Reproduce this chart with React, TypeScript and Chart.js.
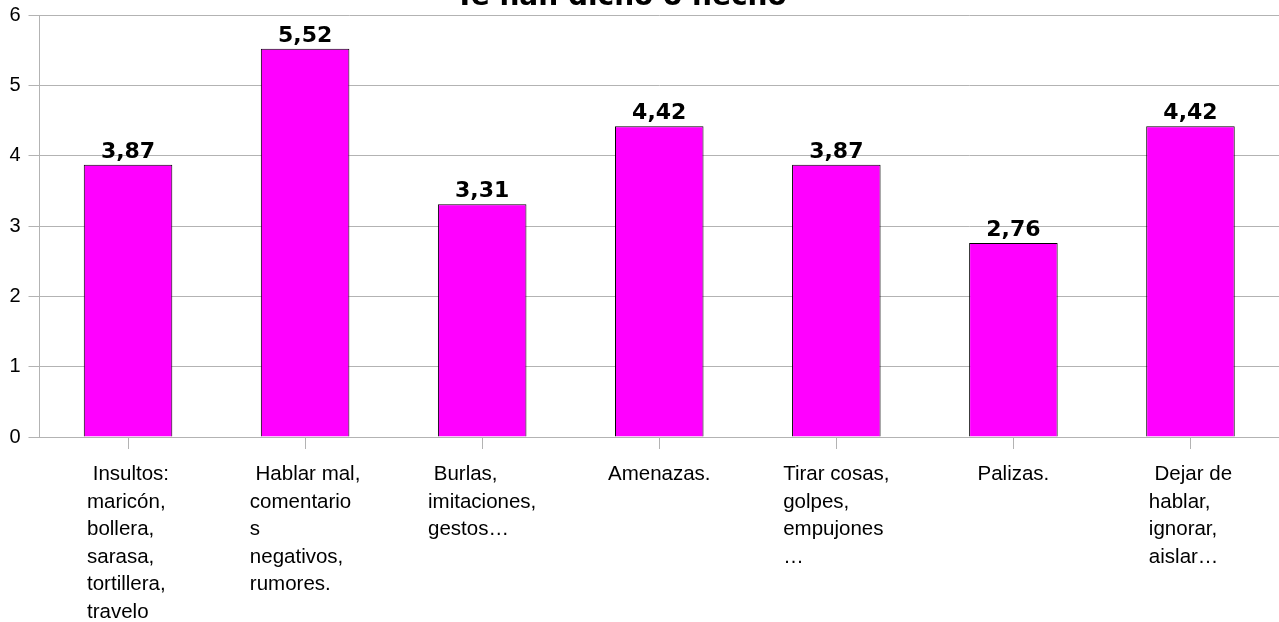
import React, { useEffect, useRef } from "react";
import { Chart, registerables } from "chart.js";

Chart.register(...registerables);

const titleText = "Te han dicho o hecho";
const categories: string[][] = [
  [" Insultos:", "maricón,", "bollera,", "sarasa,", "tortillera,", "travelo"],
  [" Hablar mal,", "comentario", "s", "negativos,", "rumores."],
  [" Burlas,", "imitaciones,", "gestos…"],
  ["Amenazas."],
  ["Tirar cosas,", "golpes,", "empujones", "…"],
  ["Palizas."],
  [" Dejar de", "hablar,", "ignorar,", "aislar…"],
];
const values: number[] = [3.87, 5.52, 3.31, 4.42, 3.87, 2.76, 4.42];
const yTicks: number[] = [0, 1, 2, 3, 4, 5, 6];

const GRID = "#b3b3b3";

const titlePlugin = {
  id: "cutTitle",
  afterDraw(chart: any) {
    const ctx = chart.ctx;
    ctx.save();
    ctx.font = "bold 28px 'DejaVu Sans'";
    ctx.fillStyle = "#000";
    ctx.textAlign = "center";
    ctx.textBaseline = "alphabetic";
    ctx.fillText(titleText, 621, 5);
    ctx.restore();
  },
};

const valueLabelPlugin = {
  id: "valueLabels",
  afterDatasetsDraw(chart: any) {
    const ctx = chart.ctx;
    const meta = chart.getDatasetMeta(0);
    ctx.save();
    ctx.font = "bold 22px 'DejaVu Sans'";
    ctx.fillStyle = "#000";
    ctx.textAlign = "center";
    ctx.textBaseline = "alphabetic";
    meta.data.forEach((bar: any, i: number) => {
      const v = chart.data.datasets[0].data[i] as number;
      ctx.fillText(v.toFixed(2).replace(".", ","), bar.x, bar.y - 7);
    });
    ctx.restore();
  },
};

const xLabelPlugin = {
  id: "xBlockLabels",
  afterDraw(chart: any) {
    const ctx = chart.ctx;
    const xs = chart.scales.x;
    ctx.save();
    ctx.font = "20.5px 'Liberation Sans', Arial, sans-serif";
    ctx.fillStyle = "#000";
    ctx.textAlign = "left";
    ctx.textBaseline = "alphabetic";
    (chart.data.labels as string[][]).forEach((lines, i) => {
      const cx = xs.getPixelForValue(i);
      let maxW = 0;
      lines.forEach((l) => {
        maxW = Math.max(maxW, ctx.measureText(l).width);
      });
      const x0 = cx - maxW / 2;
      lines.forEach((l, k) => {
        ctx.fillText(l, x0, xs.top + 43 + k * 27.6);
      });
    });
    ctx.restore();
  },
};

export default function App() {
  const canvasRef = useRef<HTMLCanvasElement | null>(null);

  useEffect(() => {
    const canvas = canvasRef.current;
    if (!canvas) return;
    const chart = new Chart(canvas, {
      type: "bar",
      data: {
        labels: categories,
        datasets: [
          {
            data: values,
            backgroundColor: "#ff00ff",
            borderColor: "#000000",
            borderWidth: 1,
            barPercentage: 0.5,
            categoryPercentage: 1,
          },
        ],
      },
      options: {
        responsive: false,
        animation: false,
        layout: { padding: { top: 15, right: 0, bottom: 0, left: 0 } },
        plugins: {
          legend: { display: false },
          title: { display: false },
          tooltip: { enabled: false },
        },
        scales: {
          x: {
            grid: {
              offset: false,
              drawOnChartArea: false,
              drawTicks: true,
              tickLength: 12,
              color: GRID,
            },
            border: { color: GRID },
            ticks: { display: false },
            afterFit: (scale: any) => {
              scale.height = 185;
              scale.paddingLeft = 0;
              scale.paddingRight = 0;
            },
          },
          y: {
            min: 0,
            max: 6,
            afterBuildTicks: (scale: any) => {
              scale.ticks = yTicks.map((v) => ({ value: v }));
            },
            grid: { color: GRID, tickLength: 11 },
            border: { color: GRID },
            ticks: {
              color: "#000",
              padding: 8,
              font: { family: "'Liberation Sans', Arial, sans-serif", size: 20 },
            },
            afterFit: (scale: any) => {
              scale.width = 39.5;
              scale.paddingTop = 0;
              scale.paddingBottom = 0;
            },
          },
        },
      },
      plugins: [titlePlugin, valueLabelPlugin, xLabelPlugin],
    });
    return () => chart.destroy();
  }, []);

  return (
    <div style={{ position: "fixed", left: 0, top: 0, width: 1279, height: 622, background: "#fff" }}>
      <canvas ref={canvasRef} width={1279} height={622} style={{ display: "block" }} />
    </div>
  );
}
